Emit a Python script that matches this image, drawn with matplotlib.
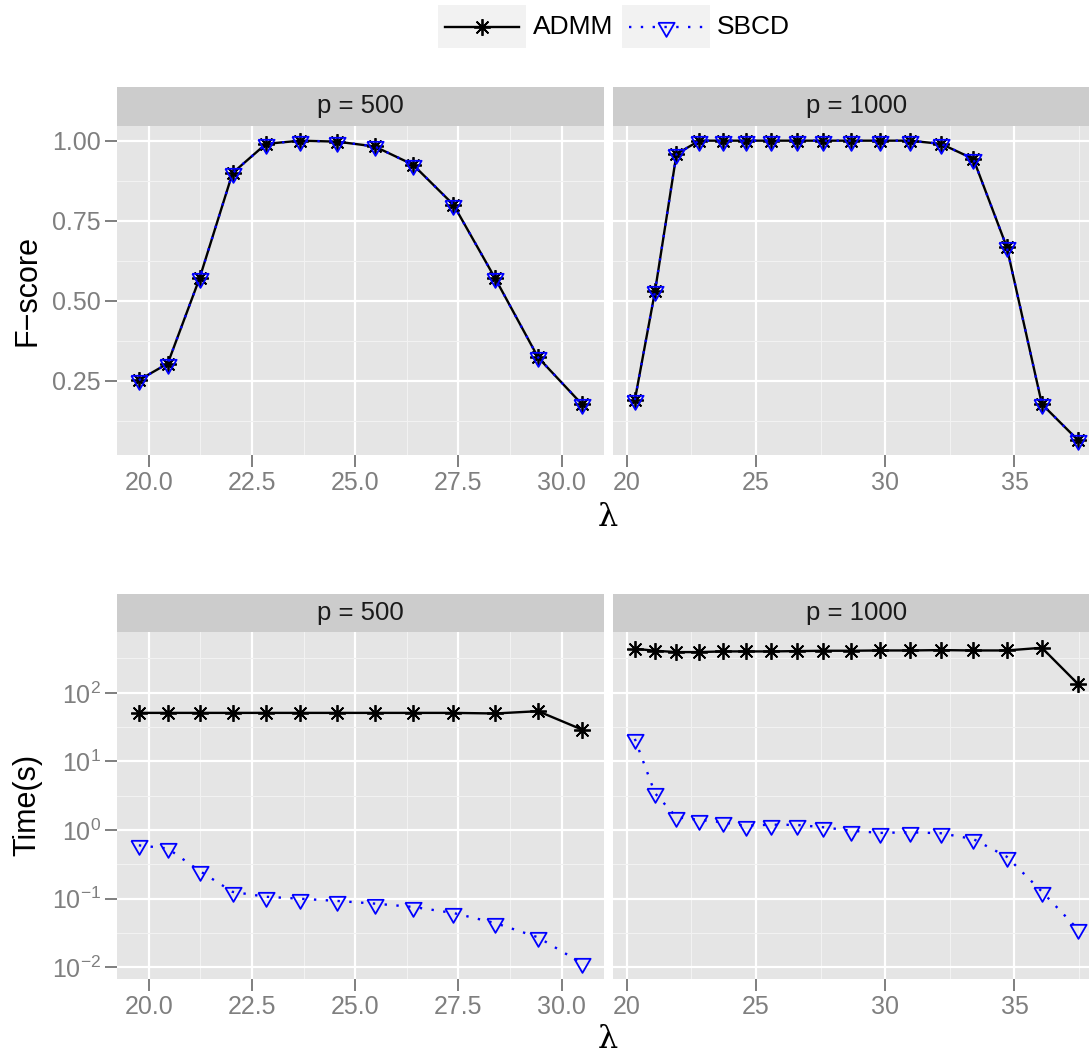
import numpy as np
import matplotlib
matplotlib.use("Agg")
import matplotlib.pyplot as plt
from matplotlib.ticker import FixedLocator, FuncFormatter

# lambda grids for the two problem sizes
lam_500 = [19.76, 20.46, 21.23, 22.03, 22.84, 23.67, 24.56, 25.47, 26.40, 27.38, 28.39, 29.43, 30.49]
lam_1000 = [20.32, 21.10, 21.93, 22.81, 23.71, 24.61, 25.58, 26.58, 27.61, 28.68, 29.80,
            30.96, 32.16, 33.41, 34.70, 36.06, 37.45]

# F-score (both methods give nearly the same support)
fscore_admm_500 = [0.252, 0.304, 0.570, 0.899, 0.990, 1.000, 0.997, 0.982, 0.925, 0.800, 0.570, 0.323, 0.177]
fscore_sbcd_500 = [0.252, 0.304, 0.570, 0.899, 0.990, 1.000, 0.997, 0.982, 0.925, 0.800, 0.570, 0.323, 0.177]
fscore_admm_1000 = [0.190, 0.530, 0.958, 1.0, 1.0, 1.0, 1.0, 1.0, 1.0, 1.0, 1.0, 1.0,
                    0.990, 0.943, 0.668, 0.177, 0.065]
fscore_sbcd_1000 = [0.190, 0.530, 0.958, 1.0, 1.0, 1.0, 1.0, 1.0, 1.0, 1.0, 1.0, 1.0,
                    0.990, 0.943, 0.668, 0.177, 0.065]

# run time in seconds
time_admm_500 = [51, 51, 51, 51, 51, 51, 51, 51, 51, 51, 50, 54, 29.2]
time_sbcd_500 = [0.60, 0.54, 0.255, 0.126, 0.107, 0.100, 0.093, 0.085, 0.076, 0.062, 0.0443, 0.0274, 0.0115]
time_admm_1000 = [438, 410, 392, 392, 401, 401, 401, 405, 410, 410, 414, 414, 419, 414, 414, 453, 135]
time_sbcd_1000 = [21.3, 3.44, 1.54, 1.41, 1.30, 1.16, 1.20, 1.19, 1.10, 0.98, 0.91, 0.93, 0.90,
                  0.74, 0.41, 0.127, 0.036]

facet_labels = ["p = 500", "p = 1000"]
xticks_500 = [20.0, 22.5, 25.0, 27.5, 30.0]
xticks_1000 = [20, 25, 30, 35]

W, H = 1089, 1055
GREY50 = "#7F7F7F"
TRI_DOWN = [(-1, 0.577), (1, 0.577), (0, -1.155), (-1, 0.577)]
ASTERISK = (8, 2, 0)
DOTTED = (0, (1, 4))

plt.rcParams["font.family"] = ["Liberation Sans", "DejaVu Sans"]


def px_axes(fig, x0, y0, x1, y1):
    # pixel box (top-left origin) -> figure axes
    return fig.add_axes([x0 / W, (H - y1) / H, (x1 - x0) / W, (y1 - y0) / H])


def expand(vals, log=False):
    v = np.log10(vals) if log else np.asarray(vals, dtype=float)
    lo, hi = v.min(), v.max()
    pad = 0.05 * (hi - lo)
    lo, hi = lo - pad, hi + pad
    return (10 ** lo, 10 ** hi) if log else (lo, hi)


def style_panel(ax):
    ax.set_facecolor("#E5E5E5")
    for s in ax.spines.values():
        s.set_visible(False)
    ax.set_axisbelow(True)
    ax.grid(which="major", color="white", lw=1.6)
    ax.grid(which="minor", color="#F2F2F2", lw=0.8)
    ax.tick_params(which="major", length=8.4, width=1.4, color=GREY50,
                   labelcolor=GREY50, labelsize=18, pad=3)
    ax.tick_params(which="minor", length=0)


def strip(fig, x0, y0, x1, y1, label):
    s = px_axes(fig, x0, y0, x1, y1)
    s.set_facecolor("#CCCCCC")
    for sp in s.spines.values():
        sp.set_visible(False)
    s.set_xticks([])
    s.set_yticks([])
    s.text(0.5, 0.5, label, ha="center", va="center", fontsize=18.5,
           color="#1A1A1A", transform=s.transAxes)


def draw_series(ax, x, ya, yb):
    ax.plot(x, ya, color="black", lw=1.7, marker=ASTERISK, ms=12, mew=1.3, zorder=3)
    ax.plot(x, yb, color="#0000FF", lw=1.7, ls=DOTTED, dash_capstyle="butt",
            marker=TRI_DOWN, ms=13.5, mfc="none", mec="#0000FF", mew=1.3, zorder=4)


def main():
    fig = plt.figure(figsize=(W / 100, H / 100), dpi=100)

    cols = [(116.7, 604.0), (612.7, 1100.0)]
    lams = [lam_500, lam_1000]
    xticks = [xticks_500, xticks_1000]
    xminors = [[21.25, 23.75, 26.25, 28.75], [22.5, 27.5, 32.5, 37.5]]
    xfmt = ["%.1f", "%d"]

    f_ylim = expand(fscore_admm_500 + fscore_admm_1000 + fscore_sbcd_500 + fscore_sbcd_1000)
    t_ylim = expand(time_admm_500 + time_admm_1000 + time_sbcd_500 + time_sbcd_1000, log=True)

    fscores = [(fscore_admm_500, fscore_sbcd_500), (fscore_admm_1000, fscore_sbcd_1000)]
    times = [(time_admm_500, time_sbcd_500), (time_admm_1000, time_sbcd_1000)]

    for i, (x0, x1) in enumerate(cols):
        # --- top row: F-score ---
        strip(fig, x0, 87, x1, 125.7, facet_labels[i])
        ax = px_axes(fig, x0, 125.7, x1, 455)
        style_panel(ax)
        draw_series(ax, lams[i], *fscores[i])
        ax.set_xlim(expand(lams[i]))
        ax.set_ylim(f_ylim)
        ax.set_xticks(xticks[i])
        ax.xaxis.set_minor_locator(FixedLocator(xminors[i]))
        ax.xaxis.set_major_formatter(FuncFormatter(lambda v, p, f=xfmt[i]: f % v))
        ax.set_yticks([0.25, 0.50, 0.75, 1.00])
        ax.yaxis.set_minor_locator(FixedLocator([0.125, 0.375, 0.625, 0.875]))
        if i == 0:
            ax.yaxis.set_major_formatter(FuncFormatter(lambda v, p: "%.2f" % v))
        else:
            ax.tick_params(axis="y", which="major", length=0, labelleft=False)

        # --- bottom row: Time(s), log scale ---
        strip(fig, x0, 594, x1, 632, facet_labels[i])
        ax = px_axes(fig, x0, 632, x1, 979)
        style_panel(ax)
        draw_series(ax, lams[i], *times[i])
        ax.set_yscale("log")
        ax.set_xlim(expand(lams[i]))
        ax.set_ylim(t_ylim)
        ax.set_xticks(xticks[i])
        ax.xaxis.set_minor_locator(FixedLocator(xminors[i]))
        ax.xaxis.set_major_formatter(FuncFormatter(lambda v, p, f=xfmt[i]: f % v))
        ax.yaxis.set_major_locator(FixedLocator([1e-2, 1e-1, 1e0, 1e1, 1e2]))
        ax.yaxis.set_minor_locator(FixedLocator([10 ** (k + 0.5) for k in range(-3, 3)]))
        if i == 0:
            ax.yaxis.set_major_formatter(
                FuncFormatter(lambda v, p: r"$\mathregular{10^{%d}}$" % round(np.log10(v))))
        else:
            ax.tick_params(axis="y", which="major", length=0, labelleft=False)

    # axis titles
    fig.text(608 / W, 1 - 518 / H, "λ", ha="center", va="center", fontsize=23, family="DejaVu Serif")
    fig.text(608 / W, 1 - 1040 / H, "λ", ha="center", va="center", fontsize=23, family="DejaVu Serif")
    fig.text(27 / W, 1 - 290 / H, "F\u2212score", ha="center", va="center", rotation=90, fontsize=22)
    fig.text(27 / W, 1 - 805 / H, "Time(s)", ha="center", va="center", rotation=90, fontsize=22)

    # legend drawn as ggplot-style keys
    k1 = px_axes(fig, 438, 5, 526, 48)
    k2 = px_axes(fig, 622, 5, 710, 48)
    for k in (k1, k2):
        k.set_facecolor("#F2F2F2")
        for sp in k.spines.values():
            sp.set_visible(False)
        k.set_xticks([])
        k.set_yticks([])
        k.set_xlim(0, 1)
        k.set_ylim(0, 1)
    k1.plot([0.08, 0.92], [0.5, 0.5], color="black", lw=1.7)
    k1.plot([0.5], [0.5], color="black", marker=ASTERISK, ms=12, mew=1.3)
    k2.plot([0.08, 0.92], [0.5, 0.5], color="#0000FF", lw=1.7, ls=DOTTED, dash_capstyle="butt")
    k2.plot([0.5], [0.5], marker=TRI_DOWN, ms=13.5, mfc="none", mec="#0000FF", mew=1.3)
    fig.text(533 / W, 1 - 27 / H, "ADMM", ha="left", va="center", fontsize=19)
    fig.text(717 / W, 1 - 27 / H, "SBCD", ha="left", va="center", fontsize=19)

    fig.savefig("out.png", dpi=100)


if __name__ == "__main__":
    main()
